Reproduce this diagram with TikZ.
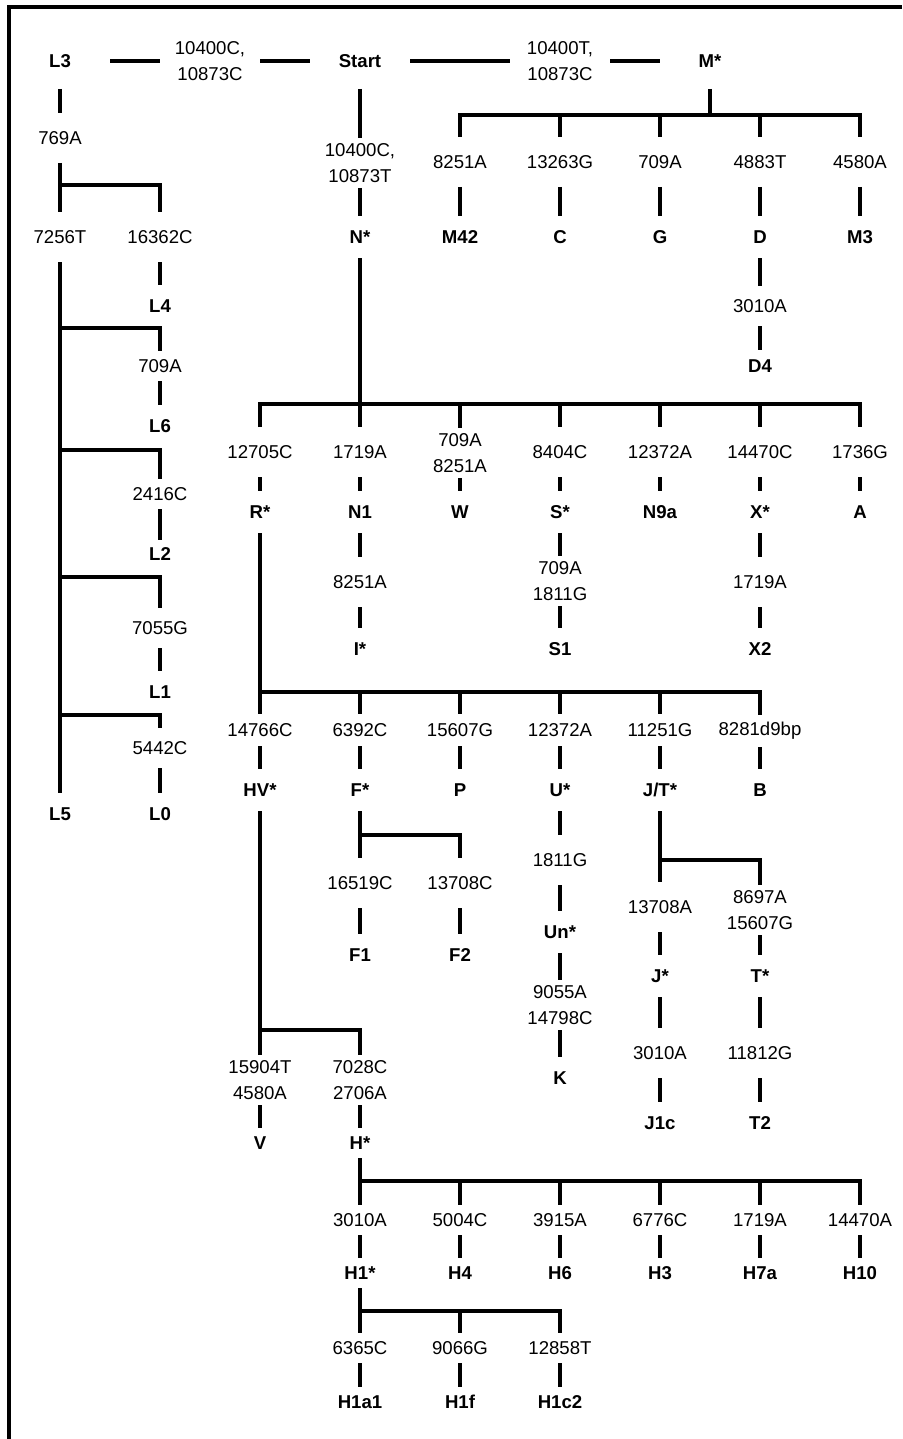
\documentclass[tikz,border=0pt]{standalone}
\usepackage{fontspec}
\setmainfont{Liberation Sans}
\newcommand\treefont{\fontsize{9.3}{13}\selectfont}

\begin{document}
\begin{tikzpicture}[x=0.5pt,y=-0.5pt,line width=2.2pt,font=\treefont,
  mut/.style={minimum width=50pt,minimum height=25pt,inner sep=0pt,outer sep=0pt,align=center},
  hap/.style={minimum width=50pt,minimum height=21pt,inner sep=0pt,outer sep=0pt,font=\treefont\bfseries},
  root/.style={hap,minimum height=28pt},
  slim/.style={minimum height=15pt}]
\useasboundingbox (0,0) rectangle (902,1439);
\draw[line width=1.8pt] (902,7) -- (9,7) -- (9,1439);
% top row
\node[root] (L3) at (60,61) {L3};
\node[mut] (mL3) at (210,61) {10400C,\\10873C};
\node[root] (start) at (360,61) {Start};
\node[mut] (mM) at (560,61) {10400T,\\10873C};
\node[root] (M) at (710,61) {M*};
\draw (L3) -- (mL3) -- (start) -- (mM) -- (M);
% L branch
\node[mut] (m769) at (60,138) {769A};
\node[mut] (mL5) at (60,237) {7256T};
\node[mut] (mL4) at (160,237) {16362C};
\node[hap] (L4) at (160,306) {L4};
\node[mut,slim] (mL6) at (160,366) {709A};
\node[hap] (L6) at (160,426) {L6};
\node[mut,slim] (mL2) at (160,494) {2416C};
\node[hap,minimum height=14pt] (L2) at (160,554) {L2};
\node[mut,minimum height=20pt] (mL1) at (160,628) {7055G};
\node[hap] (L1) at (160,692) {L1};
\node[mut,minimum height=20pt] (mL0) at (160,748) {5442C};
\node[hap] (L5) at (60,814) {L5};
\node[hap] (L0) at (160,814) {L0};
\coordinate (jL) at (60,185);
\coordinate (jL6) at (60,328);
\coordinate (jL2) at (60,450);
\coordinate (jL1) at (60,577);
\coordinate (jL0) at (60,715);
\draw (L3) -- (m769) -- (mL5) -- (L5);
\draw (jL) -| (mL4) -- (L4);
\draw (jL6) -| (mL6) -- (L6);
\draw (jL2) -| (mL2) -- (L2);
\draw (jL1) -| (mL1) -- (L1);
\draw (jL0) -| (mL0) -- (L0);
% M branch
\node[mut] (mM42) at (460,162) {8251A};
\node[mut] (mC) at (560,162) {13263G};
\node[mut] (mG) at (660,162) {709A};
\node[mut] (mD) at (760,162) {4883T};
\node[mut] (mM3) at (860,162) {4580A};
\node[hap] (M42) at (460,237) {M42};
\node[hap] (C) at (560,237) {C};
\node[hap] (G) at (660,237) {G};
\node[hap] (D) at (760,237) {D};
\node[hap] (M3) at (860,237) {M3};
\node[mut,minimum height=20pt] (mD4) at (760,306) {3010A};
\node[hap,minimum height=16pt] (D4) at (760,366) {D4};
\coordinate (jM) at (710,115);
\draw (M) -- (jM);
\draw (mM42) |- (jM) -| (mM3);
\draw (jM) -| (mC) (jM) -| (mG) (jM) -| (mD);
\draw (mM42) -- (M42) (mC) -- (C) (mG) -- (G) (mM3) -- (M3);
\draw (mD) -- (D) -- (mD4) -- (D4);
% N branch
\node[mut] (mN) at (360,163) {10400C,\\10873T};
\node[hap] (N) at (360,237) {N*};
\node[mut] (mR) at (260,452) {12705C};
\node[mut] (mN1) at (360,452) {1719A};
\node[mut] (mW) at (460,453) {709A\\8251A};
\node[mut] (mS) at (560,452) {8404C};
\node[mut] (mN9a) at (660,452) {12372A};
\node[mut] (mX) at (760,452) {14470C};
\node[mut] (mA) at (860,452) {1736G};
\node[hap] (R) at (260,512) {R*};
\node[hap] (N1) at (360,512) {N1};
\node[hap] (W) at (460,512) {W};
\node[hap] (S) at (560,512) {S*};
\node[hap] (N9a) at (660,512) {N9a};
\node[hap] (X) at (760,512) {X*};
\node[hap] (A) at (860,512) {A};
\node[mut] (mI) at (360,582) {8251A};
\node[mut] (mS1) at (560,581) {709A\\1811G};
\node[mut] (mX2) at (760,582) {1719A};
\node[hap] (I) at (360,649) {I*};
\node[hap] (S1) at (560,649) {S1};
\node[hap] (X2) at (760,649) {X2};
\coordinate (jN) at (360,404);
\draw (start) -- (mN) -- (N) -- (mN1) -- (N1) -- (mI) -- (I);
\draw (mR) |- (jN) -| (mA);
\draw (jN) -| (mW) (jN) -| (mS) (jN) -| (mN9a) (jN) -| (mX);
\draw (mR) -- (R) (mW) -- (W) (mN9a) -- (N9a) (mA) -- (A);
\draw (mS) -- (S) -- (mS1) -- (S1);
\draw (mX) -- (X) -- (mX2) -- (X2);
% R branch
\node[mut,minimum height=16pt] (mHV) at (260,730) {14766C};
\node[mut,minimum height=16pt] (mF) at (360,730) {6392C};
\node[mut,minimum height=16pt] (mP) at (460,730) {15607G};
\node[mut,minimum height=16pt] (mU) at (560,730) {12372A};
\node[mut,minimum height=16pt] (mJT) at (660,730) {11251G};
\node[mut,minimum height=16pt] (mB) at (760,731) {8281d9bp};
\node[hap] (HV) at (260,790) {HV*};
\node[hap] (F) at (360,790) {F*};
\node[hap] (P) at (460,790) {P};
\node[hap] (U) at (560,790) {U*};
\node[hap] (JT) at (660,790) {J/T*};
\node[hap] (B) at (760,790) {B};
\coordinate (jR) at (260,692);
\draw (R) -- (mHV) -- (HV);
\draw (jR) -| (mB);
\draw (jR) -| (mF) (jR) -| (mP) (jR) -| (mU) (jR) -| (mJT);
\draw (mP) -- (P) (mB) -- (B);
% F, U, J/T
\node[mut] (mF1) at (360,883) {16519C};
\node[mut] (mF2) at (460,883) {13708C};
\node[hap] (F1) at (360,955) {F1};
\node[hap] (F2) at (460,955) {F2};
\node[mut] (mUn) at (560,860) {1811G};
\node[hap] (Un) at (560,932) {Un*};
\node[mut] (mK) at (560,1005) {9055A\\14798C};
\node[hap] (K) at (560,1078) {K};
\node[mut] (mJ) at (660,907) {13708A};
\node[mut] (mT) at (760,910) {8697A\\15607G};
\node[hap] (J) at (660,976) {J*};
\node[hap] (T) at (760,976) {T*};
\node[mut] (mJ1c) at (660,1053) {3010A};
\node[mut] (mT2) at (760,1053) {11812G};
\node[hap] (J1c) at (660,1123) {J1c};
\node[hap] (T2) at (760,1123) {T2};
\coordinate (jF) at (360,835);
\coordinate (jJT) at (660,860);
\draw (mF) -- (F) -- (mF1) -- (F1);
\draw (jF) -| (mF2) -- (F2);
\draw (mU) -- (U) -- (mUn) -- (Un) -- (mK) -- (K);
\draw (mJT) -- (JT) -- (mJ) -- (J) -- (mJ1c) -- (J1c);
\draw (jJT) -| (mT) -- (T) -- (mT2) -- (T2);
% HV and H
\node[mut] (mV) at (260,1080) {15904T\\4580A};
\node[mut] (mH) at (360,1080) {7028C\\2706A};
\node[hap,slim] (V) at (260,1143) {V};
\node[hap,slim] (H) at (360,1143) {H*};
\node[mut,slim] (mH1) at (360,1220) {3010A};
\node[mut,slim] (mH4) at (460,1220) {5004C};
\node[mut,slim] (mH6) at (560,1220) {3915A};
\node[mut,slim] (mH3) at (660,1220) {6776C};
\node[mut,slim] (mH7a) at (760,1220) {1719A};
\node[mut,slim] (mH10) at (860,1220) {14470A};
\node[hap,slim] (H1) at (360,1273) {H1*};
\node[hap,slim] (H4) at (460,1273) {H4};
\node[hap,slim] (H6) at (560,1273) {H6};
\node[hap,slim] (H3) at (660,1273) {H3};
\node[hap,slim] (H7a) at (760,1273) {H7a};
\node[hap,slim] (H10) at (860,1273) {H10};
\node[mut,slim] (mH1a1) at (360,1348) {6365C};
\node[mut,slim] (mH1f) at (460,1348) {9066G};
\node[mut,slim] (mH1c2) at (560,1348) {12858T};
\node[hap,slim] (H1a1) at (360,1402) {H1a1};
\node[hap,slim] (H1f) at (460,1402) {H1f};
\node[hap,slim] (H1c2) at (560,1402) {H1c2};
\coordinate (jHV) at (260,1030);
\coordinate (jH) at (360,1181);
\coordinate (jH1) at (360,1311);
\draw (HV) -- (mV) -- (V);
\draw (jHV) -| (mH) -- (H) -- (mH1) -- (H1) -- (mH1a1) -- (H1a1);
\draw (jH) -| (mH10) -- (H10);
\draw (jH) -| (mH4) (jH) -| (mH6) (jH) -| (mH3) (jH) -| (mH7a);
\draw (mH4) -- (H4) (mH6) -- (H6) (mH3) -- (H3) (mH7a) -- (H7a);
\draw (jH1) -| (mH1c2) -- (H1c2);
\draw (jH1) -| (mH1f) -- (H1f);
\end{tikzpicture}
\end{document}
